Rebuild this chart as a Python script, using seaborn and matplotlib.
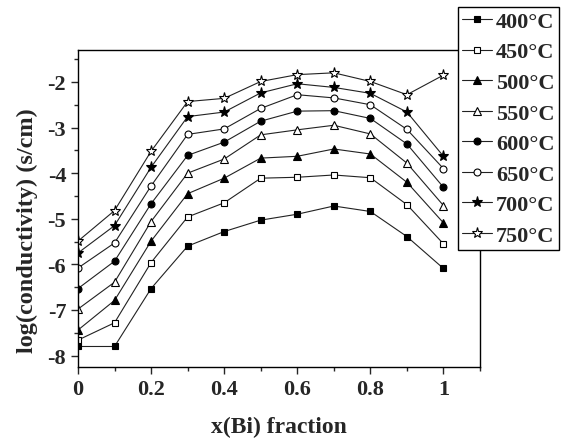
import numpy as np
import pandas as pd
import matplotlib
matplotlib.use('Agg')
import matplotlib.pyplot as plt
import seaborn as sns
from matplotlib.ticker import MultipleLocator, FuncFormatter

sns.set_style("ticks")
plt.rcParams['font.family'] = ['Liberation Serif', 'DejaVu Serif']
plt.rcParams['font.weight'] = 'bold'
plt.rcParams['axes.labelweight'] = 'bold'
plt.rcParams['axes.unicode_minus'] = False

# --- data ---
x_bi = [0.0, 0.1, 0.2, 0.3, 0.4, 0.5, 0.6, 0.7, 0.8, 0.9, 1.0]
temps = ['400°C', '450°C', '500°C', '550°C', '600°C', '650°C', '700°C', '750°C']

t400 = [-7.80, -7.80, -6.53, -5.60, -5.28, -5.03, -4.90, -4.72, -4.84, -5.39, -6.09]
t450 = [-7.66, -7.28, -5.96, -4.96, -4.65, -4.11, -4.09, -4.04, -4.10, -4.69, -5.55]
t500 = [-7.44, -6.79, -5.49, -4.45, -4.11, -3.67, -3.63, -3.47, -3.58, -4.20, -5.09]
t550 = [-6.98, -6.39, -5.06, -4.00, -3.69, -3.16, -3.05, -2.95, -3.14, -3.78, -4.71]
t600 = [-6.53, -5.93, -4.67, -3.61, -3.32, -2.86, -2.64, -2.63, -2.80, -3.36, -4.31]
t650 = [-6.08, -5.53, -4.28, -3.15, -3.03, -2.58, -2.28, -2.35, -2.50, -3.04, -3.90]
t700 = [-5.75, -5.15, -3.87, -2.76, -2.66, -2.24, -2.04, -2.12, -2.25, -2.66, -3.63]
t750 = [-5.49, -4.82, -3.52, -2.43, -2.36, -1.99, -1.84, -1.80, -1.99, -2.28, -1.85]

series = [t400, t450, t500, t550, t600, t650, t700, t750]
markers = ['s', 's', '^', '^', 'o', 'o', '*', '*']
faces = ['black', 'white', 'black', 'white', 'black', 'white', 'black', 'white']
sizes = [5, 5, 6, 6, 5, 5, 8, 8]

fig = plt.figure(figsize=(5.63, 4.39), dpi=100)
ax = fig.add_axes([0.1385, 0.1617, 0.7141, 0.7221])

for name, vals, m, fc, ms in zip(temps, series, markers, faces, sizes):
    df = pd.DataFrame({'x': x_bi, 'y': vals})
    sns.lineplot(data=df, x='x', y='y', ax=ax, color='#222222', linewidth=0.8,
                 marker=m, markersize=ms, markerfacecolor=fc,
                 markeredgecolor='black', markeredgewidth=0.8, label=name)

ax.set_xlim(0, 1.1)
ax.set_ylim(-8.25, -1.3)
ax.xaxis.set_major_locator(MultipleLocator(0.2))
ax.xaxis.set_minor_locator(MultipleLocator(0.1))
ax.yaxis.set_major_locator(MultipleLocator(1))
ax.yaxis.set_minor_locator(MultipleLocator(0.5))
ax.xaxis.set_major_formatter(FuncFormatter(lambda v, p: f'{v:g}'))
ax.yaxis.set_major_formatter(FuncFormatter(lambda v, p: f'{v:g}'))
ax.tick_params(which='major', direction='out', length=5, width=1, labelsize=16,
               top=False, right=False)
ax.tick_params(which='minor', direction='out', length=3, width=1,
               top=False, right=False)
for s in ax.spines.values():
    s.set_linewidth(1)
    s.set_color('black')

ax.set_xlabel('x(Bi) fraction', fontsize=17, fontweight='bold', labelpad=12)
ax.set_ylabel('log(conductivity) (s/cm)', fontsize=17.5, fontweight='bold')
ax.yaxis.set_label_coords(-0.10, 0.432)

leg = ax.legend(loc='upper left', bbox_to_anchor=(0.8135, 0.982),
                bbox_transform=fig.transFigure, frameon=True, fancybox=False,
                edgecolor='black', framealpha=1, fontsize=16, handlelength=1.35,
                labelspacing=0.45, borderpad=0.2, handletextpad=0.15,
                borderaxespad=0)
leg.get_frame().set_linewidth(1)

fig.savefig('out.png', dpi=100)
